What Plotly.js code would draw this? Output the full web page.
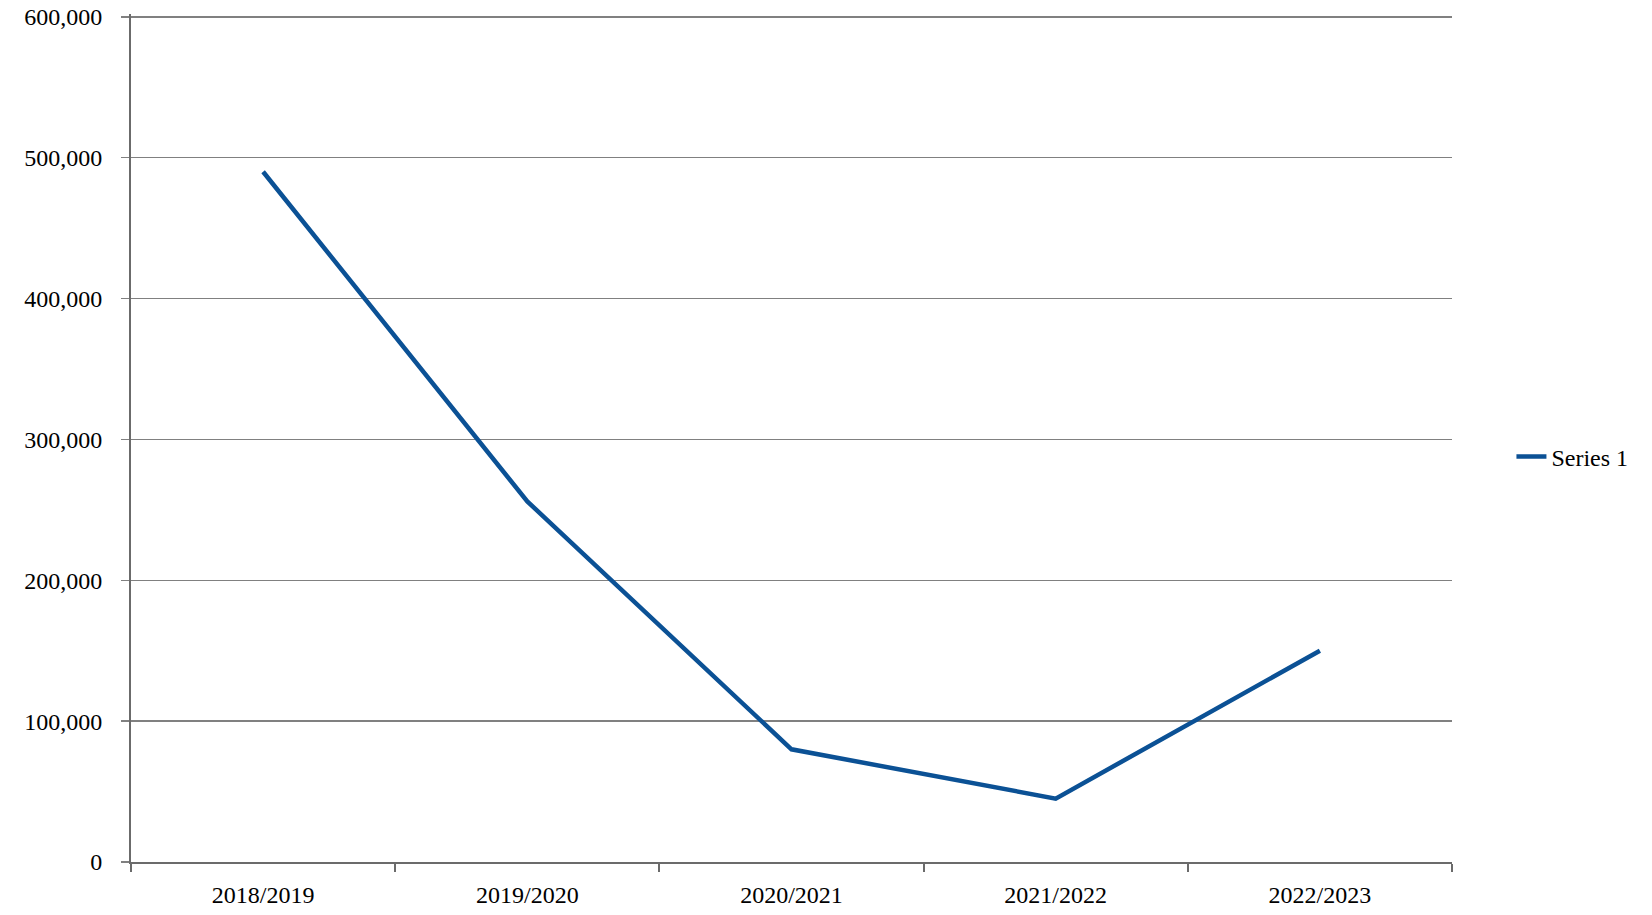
<!DOCTYPE html>
<html>
<head>
<meta charset="utf-8">
<script src="https://cdn.plot.ly/plotly-3.0.1.min.js"></script>
<style>
  html, body { margin: 0; padding: 0; background: #ffffff; }
  #chart { width: 1652px; height: 915px; }
</style>
</head>
<body>
<div id="chart"></div>
<script>
const categories = ["2018/2019", "2019/2020", "2020/2021", "2021/2022", "2022/2023"];
const seriesName = "Series 1";
const seriesValues = [490000, 256000, 80000, 45000, 150000];
const yTickValues = [0, 100000, 200000, 300000, 400000, 500000, 600000];
const yTickLabels = ["0", "100,000", "200,000", "300,000", "400,000", "500,000", "600,000"];

const fontFamily = '"Liberation Serif", "DejaVu Serif", serif';

const trace = {
  type: "scatter",
  mode: "lines",
  x: categories,
  y: seriesValues,
  name: seriesName,
  line: { color: "#0b5195", width: 4.5 },
  showlegend: true,
  hoverinfo: "skip"
};

const layout = {
  width: 1652,
  height: 915,
  paper_bgcolor: "#ffffff",
  plot_bgcolor: "#ffffff",
  margin: { l: 131, r: 200, t: 14, b: 53, pad: 0 },
  font: { family: fontFamily, size: 24, color: "#000000" },
  showlegend: true,
  legend: {
    x: 1.045, xanchor: "left",
    y: 0.4776, yanchor: "middle",
    font: { family: fontFamily, size: 24, color: "#000000" },
    bgcolor: "rgba(0,0,0,0)",
    borderwidth: 0
  },
  xaxis: {
    type: "category",
    range: [-0.5, categories.length - 0.5],
    showgrid: false,
    zeroline: false,
    showline: true,
    linecolor: "#6b6b6b",
    linewidth: 2,
    ticks: "outside",
    tickson: "boundaries",
    ticklen: 8,
    tickwidth: 2,
    tickcolor: "#6b6b6b",
    ticklabelstandoff: 10,
    tickfont: { family: fontFamily, size: 24, color: "#000000" },
    fixedrange: true
  },
  yaxis: {
    range: [0, 602000],
    tickmode: "array",
    tickvals: yTickValues,
    ticktext: yTickLabels,
    showgrid: true,
    gridcolor: "#808080",
    gridwidth: 1.4,
    zeroline: false,
    showline: true,
    linecolor: "#6b6b6b",
    linewidth: 2,
    ticks: "outside",
    ticklen: 8,
    tickwidth: 1.4,
    tickcolor: "#808080",
    ticklabelstandoff: 14,
    tickfont: { family: fontFamily, size: 24, color: "#000000" },
    fixedrange: true
  }
};

Plotly.newPlot("chart", [trace], layout, { displayModeBar: false, staticPlot: true });
</script>
</body>
</html>
